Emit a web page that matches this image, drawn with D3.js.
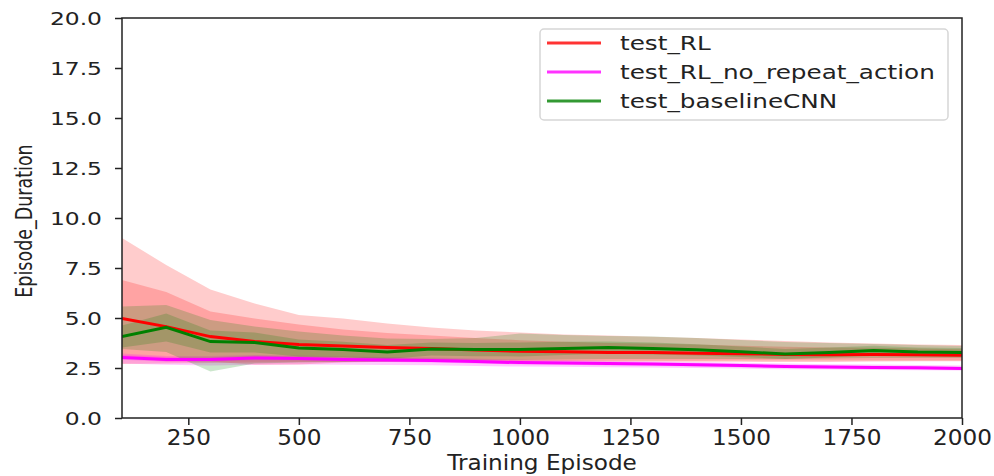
<!DOCTYPE html>
<html>
    <head>
        <meta charset="utf-8" />
        <script src="https://d3js.org/d3.v7.min.js"></script>
        <style type="text/css">
            body {
                margin: 0;
                background: #ffffff;
            }
            svg#mainSvg {
                width: 994px;
                height: 476px;
                font-family: "DejaVu Sans", sans-serif;
            }
        </style>
    </head>

    <body>
        <svg id="mainSvg"></svg>

        <!-- Data -->
        <script type="text/javascript">
            const episodes = [100, 200, 300, 400, 500, 600, 700, 800, 900, 1000,
                1100, 1200, 1300, 1400, 1500, 1600, 1700, 1800, 1900, 2000];

            // test_RL
            const rlMean = [4.98, 4.57, 4.07, 3.82, 3.68, 3.6, 3.53, 3.47, 3.4, 3.34,
                3.31, 3.28, 3.27, 3.24, 3.21, 3.18, 3.16, 3.17, 3.16, 3.14];
            const rlStd = [1.92, 1.73, 1.25, 1.16, 1.0, 0.82, 0.72, 0.65, 0.6, 0.55,
                0.5, 0.47, 0.45, 0.43, 0.4, 0.38, 0.36, 0.34, 0.32, 0.3];
            const rlMax = [9.0, 7.65, 6.43, 5.73, 5.15, 4.98, 4.73, 4.53, 4.37, 4.28,
                4.18, 4.12, 4.06, 4.0, 3.93, 3.85, 3.78, 3.72, 3.68, 3.65];
            const rlMin = [2.7, 2.72, 2.75, 2.78, 2.8, 2.8, 2.82, 2.82, 2.84, 2.85,
                2.85, 2.86, 2.86, 2.86, 2.87, 2.87, 2.87, 2.88, 2.88, 2.88];

            // test_RL_no_repeat_action
            const nraMean = [3.03, 2.93, 2.93, 3.0, 2.98, 2.93, 2.9, 2.87, 2.82, 2.77,
                2.75, 2.72, 2.7, 2.66, 2.62, 2.58, 2.55, 2.53, 2.51, 2.48];
            const nraStd = [0.12, 0.12, 0.11, 0.11, 0.1, 0.1, 0.1, 0.1, 0.1, 0.09,
                0.09, 0.09, 0.09, 0.09, 0.08, 0.08, 0.08, 0.08, 0.08, 0.08];
            const nraMax = [3.22, 3.1, 3.1, 3.15, 3.12, 3.08, 3.05, 3.02, 2.97, 2.92,
                2.9, 2.86, 2.84, 2.8, 2.76, 2.72, 2.69, 2.67, 2.65, 2.62];
            const nraMin = [2.72, 2.66, 2.62, 2.66, 2.68, 2.66, 2.65, 2.64, 2.6, 2.57,
                2.56, 2.54, 2.53, 2.5, 2.47, 2.44, 2.42, 2.4, 2.39, 2.37];

            // test_baselineCNN
            const cnnMean = [4.07, 4.53, 3.82, 3.77, 3.5, 3.43, 3.3, 3.45, 3.42, 3.43,
                3.48, 3.52, 3.48, 3.41, 3.31, 3.2, 3.27, 3.37, 3.3, 3.28];
            const cnnStd = [0.55, 0.7, 0.55, 0.5, 0.42, 0.38, 0.35, 0.33, 0.33, 0.35,
                0.33, 0.3, 0.3, 0.28, 0.26, 0.25, 0.25, 0.24, 0.22, 0.22];
            const cnnMax = [5.57, 5.65, 4.9, 4.57, 4.32, 4.12, 3.98, 3.95, 4.0, 4.23,
                4.15, 4.1, 4.07, 4.0, 3.9, 3.8, 3.75, 3.7, 3.65, 3.6];
            const cnnMin = [3.45, 3.3, 2.32, 2.72, 2.78, 2.8, 2.82, 2.85, 2.88, 2.9,
                2.92, 2.95, 2.95, 2.95, 2.95, 2.95, 2.97, 3.0, 3.0, 3.0];

            const xTicks = [250, 500, 750, 1000, 1250, 1500, 1750, 2000];
            const yTicks = [0, 2.5, 5, 7.5, 10, 12.5, 15, 17.5, 20];

            const seriesNames = ["test_RL", "test_RL_no_repeat_action", "test_baselineCNN"];
            const seriesColors = ["#ff0000", "#ff00ff", "#008000"];
        </script>

        <!-- Draw the chart -->
        <script type="text/javascript">
            const svg = d3.select("#mainSvg");
            const margin = { left: 122, right: 32, top: 18, bottom: 58 };
            const width = 994, height = 476;
            // the reference figure looks stretched sideways
            const stretch = 1.3;
            const stretchX = 1.13;

            const x = d3.scaleLinear()
                .domain([100, 2000])
                .range([margin.left, width - margin.right]);
            const y = d3.scaleLinear()
                .domain([0, 20])
                .range([height - margin.bottom, margin.top]);

            svg.append("clipPath")
                .attr("id", "plotClip")
                .append("rect")
                .attr("x", x.range()[0])
                .attr("y", y.range()[1])
                .attr("width", x.range()[1] - x.range()[0])
                .attr("height", y.range()[0] - y.range()[1]);

            const series = [
                { mean: rlMean, std: rlStd, max: rlMax, min: rlMin },
                { mean: nraMean, std: nraStd, max: nraMax, min: nraMin },
                { mean: cnnMean, std: cnnStd, max: cnnMax, min: cnnMin },
            ];

            const plot = svg.append("g").attr("clip-path", "url(#plotClip)");

            // Bands: min/max then mean +- std, both translucent
            series.forEach((s, k) => {
                const outer = d3.area()
                    .x((d, i) => x(episodes[i]))
                    .y0((d, i) => y(s.min[i]))
                    .y1((d, i) => y(s.max[i]));
                const inner = d3.area()
                    .x((d, i) => x(episodes[i]))
                    .y0((d, i) => y(s.mean[i] - s.std[i]))
                    .y1((d, i) => y(s.mean[i] + s.std[i]));
                plot.append("path")
                    .attr("d", outer(episodes))
                    .attr("fill", seriesColors[k])
                    .attr("fill-opacity", 0.2);
                plot.append("path")
                    .attr("d", inner(episodes))
                    .attr("fill", seriesColors[k])
                    .attr("fill-opacity", 0.2);
            });

            // Mean lines
            series.forEach((s, k) => {
                const line = d3.line()
                    .x((d, i) => x(episodes[i]))
                    .y((d, i) => y(s.mean[i]));
                plot.append("path")
                    .attr("d", line(episodes))
                    .attr("fill", "none")
                    .attr("stroke", seriesColors[k])
                    .attr("stroke-width", 3);
            });

            // Axes
            const xAxis = svg.append("g")
                .attr("transform", "translate(0," + y.range()[0] + ")")
                .call(d3.axisBottom(x).tickValues(xTicks).tickFormat(d3.format("d")).tickSize(7).tickSizeOuter(0));
            const yAxis = svg.append("g")
                .attr("transform", "translate(" + x.range()[0] + ",0)")
                .call(d3.axisLeft(y).tickValues(yTicks).tickFormat(d3.format(".1f")).tickSize(7).tickSizeOuter(0));

            [xAxis, yAxis].forEach((a) => {
                a.select(".domain").remove();
                a.selectAll(".tick line").attr("stroke", "#222").attr("stroke-width", 1.5);
                a.selectAll(".tick text")
                    .attr("fill", "#222")
                    .style("font-family", "DejaVu Sans");
            });

            xAxis.selectAll(".tick text")
                .attr("y", 0)
                .attr("dy", 0)
                .style("font-size", "20.5px")
                .attr("transform", "translate(0,27) scale(" + stretchX + ",1)");
            yAxis.selectAll(".tick text")
                .attr("x", 0)
                .attr("dy", "0.35em")
                .style("font-size", "18px")
                .attr("transform", "translate(-20,0) scale(" + stretch + ",1)");

            // Frame
            svg.append("rect")
                .attr("x", x.range()[0])
                .attr("y", y.range()[1])
                .attr("width", x.range()[1] - x.range()[0])
                .attr("height", y.range()[0] - y.range()[1])
                .attr("fill", "none")
                .attr("stroke", "#222")
                .attr("stroke-width", 1.5);

            // Axis titles
            svg.append("text")
                .attr("transform", "translate(" + (x.range()[0] + x.range()[1]) / 2 + ",470) scale(" + stretchX + ",1)")
                .attr("text-anchor", "middle")
                .attr("fill", "#222")
                .style("font-size", "20.5px")
                .text("Training Episode");
            svg.append("text")
                .attr("transform", "translate(32,221) scale(" + stretch + ",1) rotate(-90)")
                .attr("text-anchor", "middle")
                .attr("fill", "#222")
                .style("font-size", "17.5px")
                .text("Episode_Duration");

            // Legend
            const legend = svg.append("g");
            legend.append("rect")
                .attr("x", 540)
                .attr("y", 29)
                .attr("width", 408)
                .attr("height", 91)
                .attr("rx", 4)
                .attr("fill", "#ffffff")
                .attr("fill-opacity", 0.8)
                .attr("stroke", "#d6d6d6")
                .attr("stroke-width", 1.5);
            seriesNames.forEach((name, k) => {
                const ly = 43 + k * 29;
                legend.append("line")
                    .attr("x1", 547)
                    .attr("x2", 601)
                    .attr("y1", ly)
                    .attr("y2", ly)
                    .attr("stroke", seriesColors[k])
                    .attr("stroke-opacity", 0.8)
                    .attr("stroke-width", 3);
                legend.append("text")
                    .attr("transform", "translate(620," + ly + ") scale(" + stretch + ",1)")
                    .attr("dy", "0.35em")
                    .attr("fill", "#222")
                    .style("font-size", "19px")
                    .text(name);
            });
        </script>
    </body>
</html>
